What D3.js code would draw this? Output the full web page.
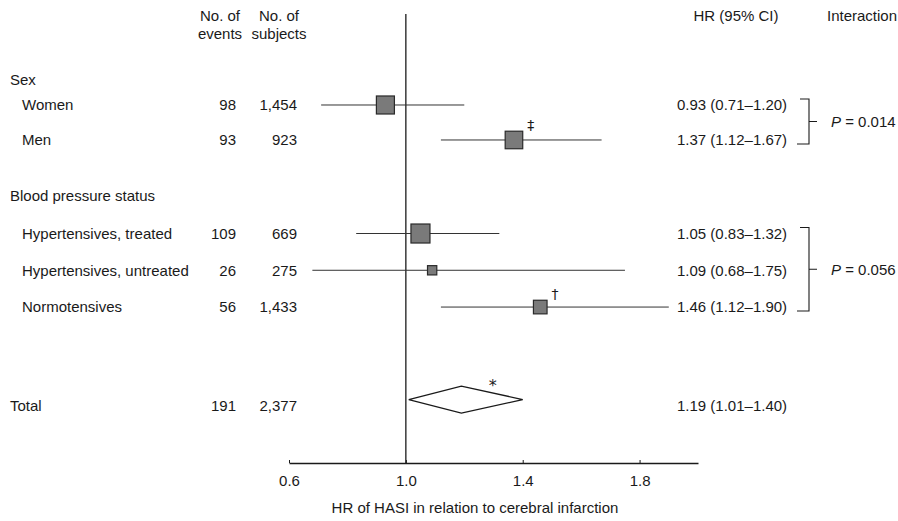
<!DOCTYPE html>
<html>
<head>
<meta charset="utf-8">
<script src="https://cdn.jsdelivr.net/npm/d3@7"></script>
<style>
  html, body { margin: 0; padding: 0; background: #fff; }
  svg { display: block; font-family: "Liberation Sans", Arial, Helvetica, sans-serif; }
</style>
</head>
<body>
<svg id="chart" width="898" height="521"></svg>
<script>
// ---- data ----
const groupHeaders = ["Sex", "Blood pressure status"];
const subgroups = ["Women", "Men", "Hypertensives, treated", "Hypertensives, untreated", "Normotensives"];
const subgroupGroup = [0, 0, 1, 1, 1];
const events = [98, 93, 109, 26, 56];
const subjects = ["1,454", "923", "669", "275", "1,433"];
const hr = [0.93, 1.37, 1.05, 1.09, 1.46];
const ciLow = [0.71, 1.12, 0.83, 0.68, 1.12];
const ciHigh = [1.20, 1.67, 1.32, 1.75, 1.90];
const hrLabels = ["0.93 (0.71\u20131.20)", "1.37 (1.12\u20131.67)", "1.05 (0.83\u20131.32)", "1.09 (0.68\u20131.75)", "1.46 (1.12\u20131.90)"];
const markSymbols = ["", "\u2021", "", "", "\u2020"];
const totalLabel = "Total";
const totalEvents = 191;
const totalSubjects = "2,377";
const totalHR = 1.19, totalLow = 1.01, totalHigh = 1.40;
const totalHRLabel = "1.19 (1.01\u20131.40)";
const totalSymbol = "*";
const interactionP = ["0.014", "0.056"];
const tickValues = [0.6, 1.0, 1.4, 1.8];
const axisTitle = "HR of HASI in relation to cerebral infarction";

// ---- layout (row slots, in row units) ----
const headerSlot = [0, 3.25];
const subgroupSlot = [0.7, 1.68, 4.3, 5.33, 6.36];
const totalSlot = 9.12;

const svg = d3.select("#chart");
const FS = 15;
const ink = "#1a1a1a";

const x = d3.scaleLinear().domain([0.6, 2.0]).range([289, 698]);
const y = d3.scaleLinear().domain([0, 1]).range([80, 115.7]);
const size = d3.scaleSqrt().domain([0, 109]).range([0, 19]);
const axisY = 463;

function txt(xp, yp, s, anchor) {
  return svg.append("text").attr("x", xp).attr("y", yp)
    .attr("dy", "0.35em").attr("font-size", FS).attr("fill", ink)
    .attr("text-anchor", anchor || "start").text(s);
}

// column headers
txt(220, 16, "No. of", "middle");
txt(220, 34, "events", "middle");
txt(279, 16, "No. of", "middle");
txt(279, 34, "subjects", "middle");
txt(736, 16, "HR (95% CI)", "middle");
txt(862, 16, "Interaction", "middle");

// group headers
groupHeaders.forEach((g, i) => txt(10, y(headerSlot[i]), g));

// reference line at HR = 1
svg.append("line")
  .attr("x1", x(1)).attr("x2", x(1))
  .attr("y1", 14).attr("y2", axisY)
  .attr("stroke", ink).attr("stroke-width", 1.3);

// subgroup rows
subgroups.forEach((s, i) => {
  const yy = y(subgroupSlot[i]);
  txt(22, yy, s);
  txt(236, yy, events[i], "end");
  txt(297, yy, subjects[i], "end");
  txt(677, yy, hrLabels[i]);
  svg.append("line")
    .attr("x1", x(ciLow[i])).attr("x2", x(ciHigh[i]))
    .attr("y1", yy).attr("y2", yy)
    .attr("stroke", "#333").attr("stroke-width", 1);
  const sz = size(events[i]);
  svg.append("rect")
    .attr("x", x(hr[i]) - sz / 2).attr("y", yy - sz / 2)
    .attr("width", sz).attr("height", sz)
    .attr("fill", "#7a7a7a").attr("stroke", "#2a2a2a").attr("stroke-width", 1.2);
  if (markSymbols[i]) {
    txt(x(hr[i]) + sz / 2 + 8, yy - sz / 2 - 6, markSymbols[i], "middle")
      .attr("font-family", "DejaVu Sans, sans-serif").attr("font-size", 14)
      .attr("fill", ink);
  }
});

// total row
const yt = y(totalSlot);
txt(10, yt, totalLabel);
txt(236, yt, totalEvents, "end");
txt(297, yt, totalSubjects, "end");
txt(677, yt, totalHRLabel);
const yd = yt - 6, hh = 13.5;
svg.append("path")
  .attr("d", d3.line()([[x(totalLow), yd], [x(totalHR), yd - hh], [x(totalHigh), yd], [x(totalHR), yd + hh]]) + "Z")
  .attr("fill", "#fff").attr("stroke", ink).attr("stroke-width", 1.3);
txt(x(totalHigh) - 30, yd - hh - 1, totalSymbol, "middle")
  .attr("font-family", "DejaVu Sans, sans-serif").attr("font-size", 16);

// interaction brackets
groupHeaders.forEach((g, gi) => {
  const idx = subgroups.map((_, i) => i).filter(i => subgroupGroup[i] === gi);
  const top = y(subgroupSlot[idx[0]]) - 6;
  const bot = y(subgroupSlot[idx[idx.length - 1]]) + 4;
  const mid = (top + bot) / 2;
  const bx = 809;
  svg.append("path")
    .attr("d", `M${bx - 9},${top}H${bx}V${bot}H${bx - 12}M${bx},${mid}H${bx + 8}`)
    .attr("fill", "none").attr("stroke", ink).attr("stroke-width", 1.1);
  const t = txt(831, mid, "");
  t.append("tspan").attr("font-style", "italic").text("P");
  t.append("tspan").text(" = " + interactionP[gi]);
});

// x axis
const axis = d3.axisBottom(x).tickValues(tickValues)
  .tickFormat(d3.format(".1f")).tickSize(-3).tickSizeOuter(0).tickPadding(12);
const ag = svg.append("g").attr("transform", `translate(0,${axisY})`).call(axis);
ag.select(".domain").attr("stroke", ink).attr("stroke-width", 1.3);
ag.selectAll(".tick line").attr("stroke", ink);
ag.selectAll(".tick text").attr("font-size", FS).attr("fill", ink)
  .attr("font-family", "Liberation Sans, Arial, sans-serif");

svg.append("text").attr("x", 475).attr("y", 508).attr("dy", "0.35em")
  .attr("text-anchor", "middle").attr("font-size", FS).attr("fill", ink)
  .text(axisTitle);
</script>
</body>
</html>
